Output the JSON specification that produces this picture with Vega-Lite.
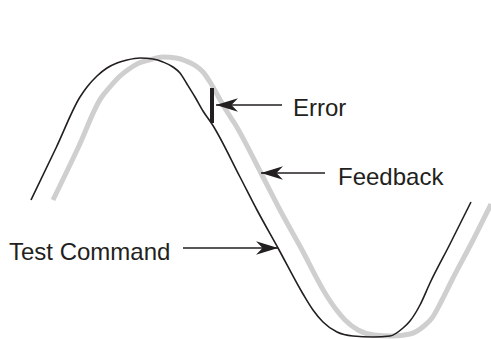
{
  "$schema": "https://vega.github.io/schema/vega-lite/v6.json",
  "width": 491,
  "height": 339,
  "autosize": {"type": "fit", "contains": "padding"},
  "padding": 0,
  "background": "white",
  "config": {"view": {"stroke": null}},
  "datasets": {
    "signals": [
      {"series": "Test Command", "t": 31, "v": -2},
      {"series": "Test Command", "t": 56, "v": 50},
      {"series": "Test Command", "t": 80, "v": 101},
      {"series": "Test Command", "t": 87, "v": 111},
      {"series": "Test Command", "t": 97, "v": 122},
      {"series": "Test Command", "t": 107, "v": 130},
      {"series": "Test Command", "t": 117, "v": 135},
      {"series": "Test Command", "t": 127, "v": 138},
      {"series": "Test Command", "t": 140, "v": 140},
      {"series": "Test Command", "t": 153, "v": 139},
      {"series": "Test Command", "t": 163, "v": 136},
      {"series": "Test Command", "t": 173, "v": 131},
      {"series": "Test Command", "t": 180, "v": 125},
      {"series": "Test Command", "t": 187, "v": 114},
      {"series": "Test Command", "t": 195, "v": 101},
      {"series": "Test Command", "t": 203, "v": 87},
      {"series": "Test Command", "t": 212, "v": 74},
      {"series": "Test Command", "t": 240, "v": 21},
      {"series": "Test Command", "t": 257, "v": -12},
      {"series": "Test Command", "t": 278, "v": -50},
      {"series": "Test Command", "t": 303, "v": -96},
      {"series": "Test Command", "t": 313, "v": -112},
      {"series": "Test Command", "t": 323, "v": -124},
      {"series": "Test Command", "t": 337, "v": -134},
      {"series": "Test Command", "t": 353, "v": -138},
      {"series": "Test Command", "t": 373, "v": -139},
      {"series": "Test Command", "t": 390, "v": -138},
      {"series": "Test Command", "t": 403, "v": -130},
      {"series": "Test Command", "t": 410, "v": -123},
      {"series": "Test Command", "t": 420, "v": -107},
      {"series": "Test Command", "t": 430, "v": -85},
      {"series": "Test Command", "t": 450, "v": -46},
      {"series": "Test Command", "t": 471, "v": -4},
      {"series": "Feedback", "t": 53, "v": -2},
      {"series": "Feedback", "t": 78, "v": 50},
      {"series": "Feedback", "t": 101, "v": 100},
      {"series": "Feedback", "t": 109, "v": 110},
      {"series": "Feedback", "t": 119, "v": 121},
      {"series": "Feedback", "t": 129, "v": 129},
      {"series": "Feedback", "t": 139, "v": 135},
      {"series": "Feedback", "t": 149, "v": 138},
      {"series": "Feedback", "t": 163, "v": 141},
      {"series": "Feedback", "t": 176, "v": 140},
      {"series": "Feedback", "t": 186, "v": 137},
      {"series": "Feedback", "t": 196, "v": 132},
      {"series": "Feedback", "t": 203, "v": 126},
      {"series": "Feedback", "t": 210, "v": 116},
      {"series": "Feedback", "t": 218, "v": 102},
      {"series": "Feedback", "t": 226, "v": 88},
      {"series": "Feedback", "t": 235, "v": 74},
      {"series": "Feedback", "t": 263, "v": 21},
      {"series": "Feedback", "t": 280, "v": -12},
      {"series": "Feedback", "t": 301, "v": -50},
      {"series": "Feedback", "t": 325, "v": -95},
      {"series": "Feedback", "t": 335, "v": -110},
      {"series": "Feedback", "t": 345, "v": -122},
      {"series": "Feedback", "t": 358, "v": -132},
      {"series": "Feedback", "t": 374, "v": -137},
      {"series": "Feedback", "t": 392, "v": -138},
      {"series": "Feedback", "t": 410, "v": -136},
      {"series": "Feedback", "t": 424, "v": -128},
      {"series": "Feedback", "t": 432, "v": -120},
      {"series": "Feedback", "t": 442, "v": -102},
      {"series": "Feedback", "t": 452, "v": -82},
      {"series": "Feedback", "t": 472, "v": -44},
      {"series": "Feedback", "t": 491, "v": -6}
    ],
    "callouts": [
      {"label": "Error", "from": 282, "to": 216, "at": 93, "textX": 293, "textY": 82, "dir": "left"},
      {"label": "Feedback", "from": 325, "to": 261, "at": 25, "textX": 338, "textY": 13, "dir": "left"},
      {"label": "Test Command", "from": 183, "to": 278, "at": -50, "textX": 9, "textY": -62, "dir": "right"}
    ],
    "errorMark": [{"t": 212, "upper": 110, "lower": 75}]
  },
  "layer": [
    {
      "data": {"name": "signals"},
      "transform": [{"filter": "datum.series === 'Feedback'"}],
      "mark": {"type": "line", "interpolate": "monotone", "stroke": "#cfcfcf", "strokeWidth": 5, "clip": true},
      "encoding": {
        "x": {"field": "t", "type": "quantitative", "axis": null, "scale": {"domain": [0, 491], "nice": false, "zero": false}},
        "y": {"field": "v", "type": "quantitative", "axis": null, "scale": {"domain": [-141, 198], "nice": false, "zero": false}},
        "order": {"field": "t"}
      }
    },
    {
      "data": {"name": "signals"},
      "transform": [{"filter": "datum.series === 'Test Command'"}],
      "mark": {"type": "line", "interpolate": "monotone", "stroke": "#231f20", "strokeWidth": 1.6, "clip": true},
      "encoding": {
        "x": {"field": "t", "type": "quantitative", "axis": null, "scale": {"domain": [0, 491], "nice": false, "zero": false}},
        "y": {"field": "v", "type": "quantitative", "axis": null, "scale": {"domain": [-141, 198], "nice": false, "zero": false}},
        "order": {"field": "t"}
      }
    },
    {
      "data": {"name": "errorMark"},
      "mark": {"type": "rule", "stroke": "#231f20", "strokeWidth": 4},
      "encoding": {
        "x": {"field": "t", "type": "quantitative", "axis": null, "scale": {"domain": [0, 491], "nice": false, "zero": false}},
        "y": {"field": "upper", "type": "quantitative", "axis": null, "scale": {"domain": [-141, 198], "nice": false, "zero": false}},
        "y2": {"field": "lower"}
      }
    },
    {
      "data": {"name": "callouts"},
      "mark": {"type": "rule", "stroke": "#231f20", "strokeWidth": 1.3},
      "encoding": {
        "x": {"field": "from", "type": "quantitative", "axis": null, "scale": {"domain": [0, 491], "nice": false, "zero": false}},
        "x2": {"field": "to"},
        "y": {"field": "at", "type": "quantitative", "axis": null, "scale": {"domain": [-141, 198], "nice": false, "zero": false}}
      }
    },
    {
      "data": {"name": "callouts"},
      "mark": {"type": "point", "filled": true, "opacity": 1, "size": 484, "color": "#231f20", "strokeWidth": 0},
      "encoding": {
        "x": {"field": "to", "type": "quantitative", "axis": null, "scale": {"domain": [0, 491], "nice": false, "zero": false}},
        "y": {"field": "at", "type": "quantitative", "axis": null, "scale": {"domain": [-141, 198], "nice": false, "zero": false}},
        "shape": {
          "field": "dir",
          "type": "nominal",
          "legend": null,
          "scale": {
            "domain": ["left", "right"],
            "range": ["M0,0 L2,-0.62 L1.4,0 L2,0.62 Z", "M0,0 L-2,-0.62 L-1.4,0 L-2,0.62 Z"]
          }
        }
      }
    },
    {
      "data": {"name": "callouts"},
      "mark": {"type": "text", "align": "left", "baseline": "alphabetic", "font": "Liberation Sans", "fontSize": 24, "color": "#231f20"},
      "encoding": {
        "x": {"field": "textX", "type": "quantitative", "axis": null, "scale": {"domain": [0, 491], "nice": false, "zero": false}},
        "y": {"field": "textY", "type": "quantitative", "axis": null, "scale": {"domain": [-141, 198], "nice": false, "zero": false}},
        "text": {"field": "label"}
      }
    }
  ]
}
